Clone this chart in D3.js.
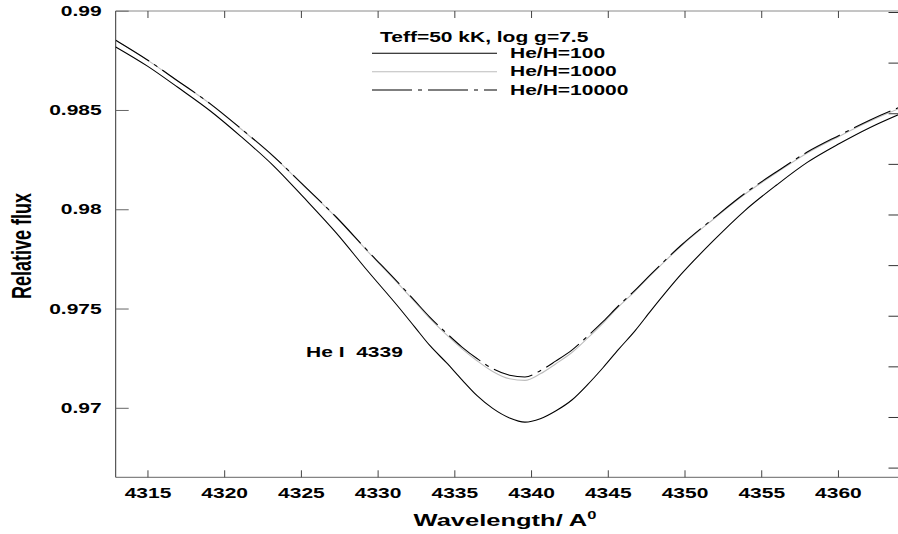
<!DOCTYPE html>
<html>
<head>
<meta charset="utf-8">
<script src="https://cdn.jsdelivr.net/npm/d3@7"></script>
<style>
  html, body { margin: 0; padding: 0; background: #fff; }
  svg { display: block; font-family: "Liberation Sans", Arial, sans-serif; }
  text { white-space: pre; }
</style>
</head>
<body>
<svg id="chart" width="898" height="534"></svg>
<script>
// ---- data ----
const wavelengths = [4312.9,4315.0,4317.0,4319.1,4321.1,4323.2,4325.2,4327.3,4329.3,4331.4,4332.4,4333.4,4334.5,4335.5,4336.5,4337.5,4338.6,4339.6,4340.6,4341.6,4342.7,4343.7,4344.7,4345.7,4346.8,4347.8,4349.8,4351.9,4353.9,4356.0,4358.0,4360.1,4362.1,4364.2];
const fluxHeH100 = [0.98819,0.98721,0.98613,0.98495,0.98366,0.98220,0.98058,0.97881,0.97694,0.97504,0.97409,0.97314,0.97226,0.97141,0.97060,0.96997,0.96949,0.96928,0.96945,0.96984,0.97042,0.97118,0.97203,0.97294,0.97390,0.97488,0.97674,0.97843,0.97991,0.98122,0.98236,0.98331,0.98412,0.98485];
const fluxHeH1000 = [0.98852,0.98751,0.98644,0.98530,0.98404,0.98266,0.98117,0.97959,0.97792,0.97621,0.97536,0.97450,0.97367,0.97297,0.97236,0.97183,0.97146,0.97138,0.97171,0.97221,0.97281,0.97352,0.97427,0.97508,0.97589,0.97668,0.97816,0.97951,0.98074,0.98184,0.98283,0.98368,0.98444,0.98514];
const fluxHeH10000 = [0.98853,0.98752,0.98645,0.98531,0.98406,0.98268,0.98119,0.97961,0.97795,0.97625,0.97541,0.97457,0.97375,0.97306,0.97247,0.97197,0.97164,0.97155,0.97187,0.97235,0.97293,0.97362,0.97435,0.97514,0.97594,0.97672,0.97820,0.97955,0.98078,0.98189,0.98288,0.98373,0.98450,0.98520];
const seriesNames = ["He/H=100", "He/H=1000", "He/H=10000"];
const xTickValues = [4315,4320,4325,4330,4335,4340,4345,4350,4355,4360];
const yTickValues = [0.99,0.985,0.98,0.975,0.97];
const yTickLabels = ["0.99","0.985","0.98","0.975","0.97"];
const rightTickValues = [0.99,0.9875,0.985,0.9825,0.98,0.9775,0.975,0.9725,0.97,0.9675];
const legendTitle = "Teff=50 kK, log g=7.5";
const lineLabel = "He I  4339";
const xTitle = "Wavelength/ A";
const xTitleSup = "0";
const yTitle = "Relative flux";

// ---- layout ----
const L = 115.7, T = 10.7, B = 477.3;
const SX = 1.5; // horizontal stretch of the lettering
const svg = d3.select("#chart");

const x = d3.scaleLinear().domain([4312.93, 4364]).range([L, L + (4364 - 4312.93) * 15.344]);
const R = x.range()[1];
const y = d3.scaleLinear().domain([0.9665, 0.99]).range([B, T]);
const y2 = d3.scaleLinear().domain([0.9675, 0.99]).range([467.6, 12]);

svg.append("defs").append("clipPath").attr("id", "clip")
  .append("rect").attr("x", L).attr("y", T).attr("width", R - L).attr("height", B - T);

// frame
svg.append("line").attr("x1", L).attr("x2", 898).attr("y1", 11).attr("y2", 11).attr("stroke", "#8a8a8a");
svg.append("line").attr("x1", L).attr("x2", 898).attr("y1", B).attr("y2", B).attr("stroke", "#666");
svg.append("line").attr("x1", L).attr("x2", L).attr("y1", 11).attr("y2", B).attr("stroke", "#333");

// bottom axis
const gB = svg.append("g").attr("transform", `translate(0,${B})`)
  .call(d3.axisBottom(x).tickValues(xTickValues).tickSize(-7).tickFormat(d3.format("d")));
gB.select(".domain").remove();
gB.selectAll(".tick line").attr("stroke", "#444");
gB.selectAll(".tick text")
  .attr("y", null).attr("dy", null)
  .attr("transform", `translate(0,20.5) scale(${SX},1)`)
  .attr("font-size", 14).attr("font-weight", "bold").attr("fill", "#000")
  .attr("font-family", "Liberation Sans, Arial, sans-serif");

// top axis
const gT = svg.append("g").attr("transform", `translate(0,11)`)
  .call(d3.axisTop(x).tickValues(xTickValues).tickSize(-7).tickFormat(""));
gT.select(".domain").remove();
gT.selectAll(".tick line").attr("stroke", "#444");

// left axis
const gL = svg.append("g").attr("transform", `translate(${L},0)`)
  .call(d3.axisLeft(y).tickValues(yTickValues).tickSize(-13).tickFormat((d, i) => yTickLabels[i]));
gL.select(".domain").remove();
gL.selectAll(".tick line").attr("stroke", "#666");
gL.selectAll(".tick text")
  .attr("x", null).attr("dy", null)
  .attr("dominant-baseline", "central")
  .attr("transform", `translate(-14,0) scale(${SX},1)`)
  .attr("font-size", 14).attr("font-weight", "bold").attr("fill", "#000")
  .attr("font-family", "Liberation Sans, Arial, sans-serif");

// right axis (ticks only)
const gR = svg.append("g").attr("transform", `translate(898.5,0)`)
  .call(d3.axisRight(y2).tickValues(rightTickValues).tickSize(-10).tickFormat(""));
gR.select(".domain").remove();
gR.selectAll(".tick line").attr("stroke", "#333");

// curves
const series = [
  { name: seriesNames[0], values: fluxHeH100, stroke: "#000", dash: null },
  { name: seriesNames[1], values: fluxHeH1000, stroke: "#bdbdbd", dash: null },
  { name: seriesNames[2], values: fluxHeH10000, stroke: "#000", dash: "40,6,4,6" }
];
const line = d3.line().x((d, i) => x(wavelengths[i])).y(d => y(d)).curve(d3.curveMonotoneX);
const gC = svg.append("g").attr("clip-path", "url(#clip)");
series.forEach(s => {
  gC.append("path").attr("d", line(s.values)).attr("fill", "none")
    .attr("stroke", s.stroke).attr("stroke-width", 1.1)
    .attr("stroke-dasharray", s.dash);
});

// legend
function stext(px, py, str, opts = {}) {
  return svg.append("text")
    .attr("transform", `translate(${px},${py}) scale(${opts.sx || SX},1)`)
    .attr("text-anchor", opts.anchor || "start")
    .attr("dominant-baseline", "central")
    .attr("font-size", opts.size || 14)
    .attr("font-weight", "bold")
    .attr("fill", "#000")
    .text(str);
}
stext(380, 37.5, legendTitle);
const legY = [53.3, 71.7, 90];
series.forEach((s, i) => {
  svg.append("line").attr("x1", 372).attr("x2", 497).attr("y1", legY[i]).attr("y2", legY[i])
    .attr("stroke", s.stroke).attr("stroke-width", 1.1).attr("stroke-dasharray", s.dash);
  stext(510, legY[i], s.name);
});

// line label
stext(306, 352, lineLabel);

// axis titles
const xt = svg.append("text")
  .attr("transform", `translate(505,520) scale(${SX},1)`)
  .attr("text-anchor", "middle").attr("dominant-baseline", "central")
  .attr("font-size", 17).attr("font-weight", "bold").attr("fill", "#000");
xt.append("tspan").text(xTitle);
xt.append("tspan").attr("font-size", 11).attr("dy", -5).text(xTitleSup);

svg.append("text")
  .attr("transform", `translate(22,246) scale(${SX},1) rotate(-90)`)
  .attr("text-anchor", "middle").attr("dominant-baseline", "central")
  .attr("font-size", 18).attr("font-weight", "bold").attr("fill", "#000")
  .text(yTitle);
</script>
</body>
</html>
